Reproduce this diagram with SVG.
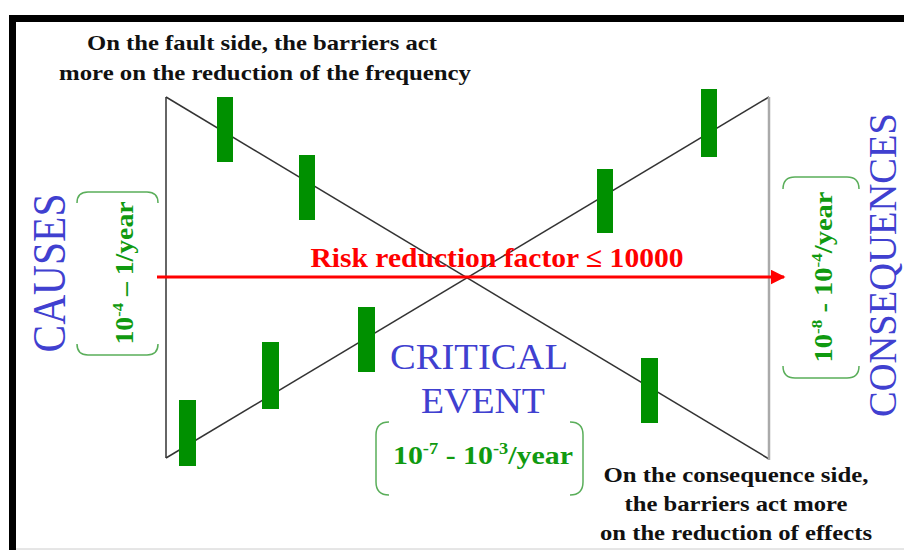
<svg xmlns="http://www.w3.org/2000/svg" width="904" height="550" viewBox="0 0 904 550">
<style>
.note{font-family:"Liberation Serif",serif;font-weight:bold;font-size:22px;fill:#111;text-anchor:middle}
.blue{font-family:"Liberation Serif",serif;fill:#4040d0;text-anchor:middle}
.grn{font-family:"Liberation Serif",serif;font-weight:bold;fill:#109a10;text-anchor:middle}
.br{fill:none;stroke:#5aae5a;stroke-width:1.5}
.bar{fill:#009000}
.diag{stroke:#333;stroke-width:1.5;fill:none}
</style>
<defs>
<marker id="ah" viewBox="0 0 10 10" refX="9" refY="5" markerWidth="5" markerHeight="5" orient="auto" markerUnits="strokeWidth">
<path d="M0,0 L10,5 L0,10 z" fill="#ff0000"/>
</marker>
</defs>
<rect width="904" height="550" fill="#fff"/>
<g id="frame">
<rect x="9" y="15" width="895" height="7" fill="#000"/>
<rect x="9" y="15" width="7" height="535" fill="#000"/>
<line x1="16" y1="549" x2="904" y2="549" stroke="#ccc" stroke-width="1"/>
</g>
<g id="connectors">
<line class="diag" x1="166" y1="97" x2="166" y2="458"/>
<line class="diag" x1="166" y1="97" x2="769" y2="459"/>
<line class="diag" x1="166" y1="458" x2="769" y2="97"/>
<line x1="769" y1="97" x2="769" y2="460" stroke="#aaa" stroke-width="2.5"/>
<line x1="157" y1="277" x2="784" y2="277" stroke="#ff0000" stroke-width="3" marker-end="url(#ah)"/>
</g>
<g id="barriers">
<rect class="bar" x="217" y="97" width="16" height="65"/>
<rect class="bar" x="299" y="155" width="16" height="65"/>
<rect class="bar" x="597" y="169" width="16" height="64"/>
<rect class="bar" x="701" y="89" width="16" height="68"/>
<rect class="bar" x="179" y="400" width="17" height="66"/>
<rect class="bar" x="262" y="342" width="17" height="67"/>
<rect class="bar" x="358" y="307" width="17" height="65"/>
<rect class="bar" x="641" y="358" width="17" height="65"/>
</g>
<g id="fault-note">
<text class="note" x="262" y="50" textLength="350" lengthAdjust="spacingAndGlyphs">On the fault side, the barriers act</text>
<text class="note" x="265" y="80" textLength="412" lengthAdjust="spacingAndGlyphs">more on the reduction of the frequency</text>
</g>
<g id="consequence-note">
<text class="note" x="736" y="482" textLength="265" lengthAdjust="spacingAndGlyphs">On the consequence side,</text>
<text class="note" x="736" y="511" textLength="223" lengthAdjust="spacingAndGlyphs">the barriers act more</text>
<text class="note" x="736" y="540" textLength="272" lengthAdjust="spacingAndGlyphs">on the reduction of effects</text>
</g>
<g id="risk-label">
<text x="497" y="267" font-family="Liberation Serif, serif" font-weight="bold" font-size="28" fill="#ff0000" text-anchor="middle" textLength="373" lengthAdjust="spacingAndGlyphs">Risk reduction factor ≤ 10000</text>
</g>
<g id="causes">
<text class="blue" font-size="46" transform="translate(65,273) rotate(-90)" textLength="159" lengthAdjust="spacingAndGlyphs">CAUSES</text>
<path class="br" d="M77,203 Q77,192 88,192 L147,192 Q158,192 158,203"/>
<path class="br" d="M77,344 Q77,355 88,355 L147,355 Q158,355 158,344"/>
<text class="grn" font-size="25" transform="translate(133,273) rotate(-90)" textLength="143" lengthAdjust="spacingAndGlyphs">10<tspan font-size="15" dy="-10">-4</tspan><tspan dy="10"> – 1/year</tspan></text>
</g>
<g id="consequences">
<text class="blue" font-size="40" transform="translate(896,265) rotate(-90)" textLength="304" lengthAdjust="spacingAndGlyphs">CONSEQUENCES</text>
<path class="br" d="M783,189 Q783,177 795,177 L847,177 Q859,177 859,189"/>
<path class="br" d="M783,366 Q783,378 795,378 L847,378 Q859,378 859,366"/>
<text class="grn" font-size="25" transform="translate(832,277) rotate(-90)" textLength="171" lengthAdjust="spacingAndGlyphs">10<tspan font-size="15" dy="-10">-8</tspan><tspan dy="10"> - 10</tspan><tspan font-size="15" dy="-10">-4</tspan><tspan dy="10">/year</tspan></text>
</g>
<g id="critical-event">
<text class="blue" font-size="35" x="479" y="369" textLength="178" lengthAdjust="spacingAndGlyphs">CRITICAL</text>
<text class="blue" font-size="35" x="483" y="413" textLength="124" lengthAdjust="spacingAndGlyphs">EVENT</text>
<path class="br" d="M389,422 Q376,422 376,435 L376,482 Q376,495 389,495"/>
<path class="br" d="M570,422 Q583,422 583,435 L583,482 Q583,495 570,495"/>
<text class="grn" font-size="26" x="483" y="464" textLength="180" lengthAdjust="spacingAndGlyphs">10<tspan font-size="16" dy="-10">-7</tspan><tspan dy="10"> - 10</tspan><tspan font-size="16" dy="-10">-3</tspan><tspan dy="10">/year</tspan></text>
</g>
</svg>
